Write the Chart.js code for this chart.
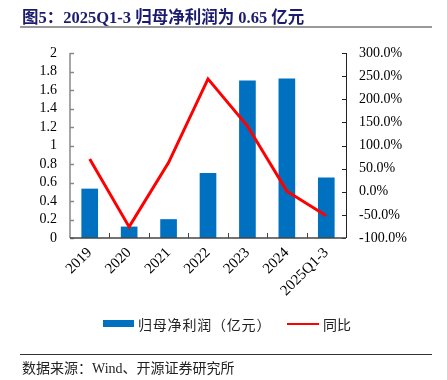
<!DOCTYPE html>
<html>
<head>
<meta charset="utf-8">
<script src="https://cdn.jsdelivr.net/npm/chart.js@4.4.0/dist/chart.umd.min.js"></script>
<style>
  html, body { margin: 0; padding: 0; background: #fff; }
  #wrap { position: relative; width: 447px; height: 380px; overflow: hidden; }
  #c { position: absolute; left: 0; top: 0; }
  .title { position: absolute; left: 22px; top: 4px; font: bold 16.5px "Liberation Serif", "Noto Sans CJK SC", serif; color: #1c1c6e; white-space: nowrap; }
  .tline { position: absolute; left: 20px; top: 26px; width: 412px; height: 2px; background: #999; }
  .bline { position: absolute; left: 20px; top: 354px; width: 412px; height: 1px; background: #333; }
  .src { position: absolute; left: 22px; top: 357px; font: 14px "Liberation Serif", "Noto Sans CJK SC", serif; color: #222; white-space: nowrap; }
  .legend { position: absolute; top: 314px; left: 0; width: 447px; height: 20px; font: 14px "Noto Sans CJK SC", sans-serif; color: #222; }
  .sw1 { position: absolute; left: 103px; top: 6px; width: 31px; height: 7px; background: #0070C0; }
  .t1 { position: absolute; left: 138px; top: 0px; white-space: nowrap; line-height: 20px; letter-spacing: 0.8px; }
  .sw2 { position: absolute; left: 287px; top: 8.5px; width: 32px; height: 2.5px; background: #FF0000; }
  .t2 { position: absolute; left: 323px; top: 0px; white-space: nowrap; line-height: 20px; }
</style>
</head>
<body>
<div id="wrap">
  <canvas id="c" width="447" height="380"></canvas>
  <div class="title">图5：2025Q1-3 归母净利润为 0.65 亿元</div>
  <div class="tline"></div>
  <div class="legend">
    <div class="sw1"></div><div class="t1">归母净利润（亿元）</div>
    <div class="sw2"></div><div class="t2">同比</div>
  </div>
  <div class="bline"></div>
  <div class="src">数据来源：Wind、开源证券研究所</div>
</div>
<script>
const categories = ['2019', '2020', '2021', '2022', '2023', '2024', '2025Q1-3'];
const netProfit = [0.53, 0.12, 0.20, 0.70, 1.70, 1.72, 0.65];
const yoyPct = [71, -76, 63, 244, 142, 1.3, -52];
const leftTicks = [0, 0.2, 0.4, 0.6, 0.8, 1, 1.2, 1.4, 1.6, 1.8, 2];
const rightTicks = [-100, -50, 0, 50, 100, 150, 200, 250, 300];

const tickFont = { family: '"Liberation Serif", "Times New Roman", serif', size: 14 };

const axisPlugin = {
  id: 'axisPlugin',
  afterDatasetsDraw(chart) {
    const ctx = chart.ctx;
    const x = chart.scales.x, yl = chart.scales.y, yr = chart.scales.y1;
    const a = chart.chartArea;
    ctx.save();
    ctx.strokeStyle = '#888'; ctx.lineWidth = 1.5;
    ctx.beginPath(); ctx.moveTo(a.left, a.top); ctx.lineTo(a.left, a.bottom); ctx.stroke();
    leftTicks.forEach(v => {
      const py = Math.round(yl.getPixelForValue(v)) + 0.5;
      ctx.beginPath(); ctx.moveTo(a.left, py); ctx.lineTo(a.left + 4, py); ctx.stroke();
    });
    ctx.strokeStyle = '#222'; ctx.lineWidth = 1;
    ctx.beginPath(); ctx.moveTo(a.right + 0.5, a.top); ctx.lineTo(a.right + 0.5, a.bottom); ctx.stroke();
    rightTicks.forEach(v => {
      const py = Math.round(yr.getPixelForValue(v)) + 0.5;
      ctx.beginPath(); ctx.moveTo(a.right, py); ctx.lineTo(a.right - 4, py); ctx.stroke();
    });
    ctx.strokeStyle = '#444'; ctx.lineWidth = 1.5;
    ctx.beginPath(); ctx.moveTo(a.left, a.bottom); ctx.lineTo(a.right, a.bottom); ctx.stroke();
    ctx.lineWidth = 1;
    for (let i = 0; i < categories.length - 1; i++) {
      const px = Math.round((x.getPixelForValue(i) + x.getPixelForValue(i + 1)) / 2) + 0.5;
      ctx.beginPath(); ctx.moveTo(px, a.bottom); ctx.lineTo(px, a.bottom - 5); ctx.stroke();
    }
    ctx.restore();
  }
};

new Chart(document.getElementById('c'), {
  data: {
    labels: categories,
    datasets: [
      { type: 'line', label: '同比', data: yoyPct, yAxisID: 'y1', borderColor: '#FF0000', borderWidth: 3, pointRadius: 0, tension: 0, order: 0 },
      { type: 'bar', label: '归母净利润（亿元）', data: netProfit, yAxisID: 'y', backgroundColor: '#0070C0', barThickness: 16, order: 1 }
    ]
  },
  options: {
    responsive: false,
    animation: false,
    layout: { padding: { top: 53, bottom: 0, left: 0, right: 0 } },
    plugins: { legend: { display: false }, tooltip: { enabled: false } },
    scales: {
      x: {
        offset: true,
        grid: { display: false, drawTicks: false },
        border: { display: false },
        ticks: { font: { ...tickFont, size: 15 }, color: '#000', minRotation: 45, maxRotation: 45, padding: 6, autoSkip: false },
        afterFit(s) { s.height = 380 - 238; }
      },
      y: {
        position: 'left', min: 0, max: 2,
        grid: { display: false, drawTicks: false },
        border: { display: false },
        afterBuildTicks(s) { s.ticks = leftTicks.map(v => ({ value: v })); },
        ticks: { font: tickFont, color: '#000', padding: 13, autoSkip: false, callback: v => String(v) },
        afterFit(s) { s.width = 70; }
      },
      y1: {
        position: 'right', min: -100, max: 300,
        grid: { display: false, drawTicks: false },
        border: { display: false },
        afterBuildTicks(s) { s.ticks = rightTicks.map(v => ({ value: v })); },
        ticks: { font: tickFont, color: '#000', padding: 13, autoSkip: false, callback: v => v.toFixed(1) + '%' },
        afterFit(s) { s.width = 447 - 346; }
      }
    }
  },
  plugins: [axisPlugin]
});
</script>
</body>
</html>
